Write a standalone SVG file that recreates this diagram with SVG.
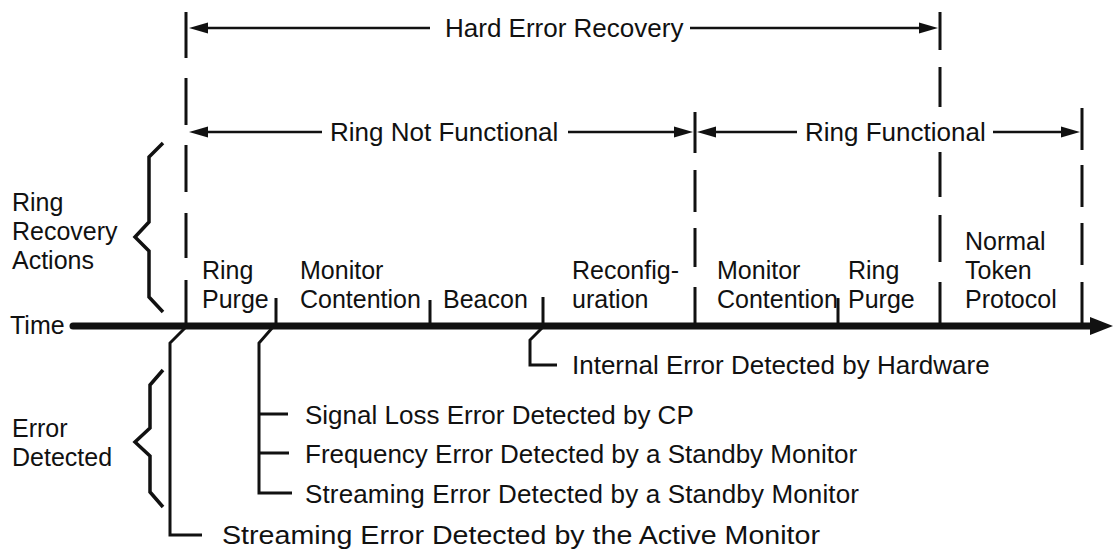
<svg xmlns="http://www.w3.org/2000/svg" width="1114" height="550" viewBox="0 0 1114 550">
<defs>
<style>
text{font-family:"Liberation Sans",Arial,Helvetica,sans-serif;fill:#111;}
.t26{font-size:26px;}
.t25{font-size:25px;}
.dash{stroke:#111;stroke-width:3;fill:none;}
.arr{stroke:#111;stroke-width:2.6;fill:none;}
.ah{fill:#111;stroke:none;}
.conn{stroke:#111;stroke-width:3;fill:none;stroke-linejoin:miter;}
.brace{stroke:#111;stroke-width:3.5;fill:none;stroke-linejoin:miter;}
</style>
</defs>
<rect width="1114" height="550" fill="#fff"/>

<g id="boundaries">
<path class="dash" d="M186,12V58M186,78V125M186,145V192M186,213V258M186,280V326"/>
<path class="dash" d="M695,112V153M695,170V212M695,228V267M695,287V323"/>
<path class="dash" d="M940,12V50M940,67V107M940,152V197M940,215V262M940,282V323"/>
<path class="dash" d="M1082,108V150M1082,165V207M1082,223V265M1082,282V323"/>
</g>

<g id="hard-error-recovery">
<path class="arr" d="M205,28H430M690,28H922"/>
<polygon class="ah" points="189,28 208,22.5 208,33.5"/>
<polygon class="ah" points="938,28 919,22.5 919,33.5"/>
<text class="t26" x="445" y="37">Hard Error Recovery</text>
</g>

<g id="ring-not-functional">
<path class="arr" d="M205,132H322M568,132H677"/>
<polygon class="ah" points="189,132 208,126.5 208,137.5"/>
<polygon class="ah" points="693,132 674,126.5 674,137.5"/>
<text class="t26" x="330" y="141">Ring Not Functional</text>
</g>

<g id="ring-functional">
<path class="arr" d="M713,132H797M993,132H1064"/>
<polygon class="ah" points="697,132 716,126.5 716,137.5"/>
<polygon class="ah" points="1080,132 1061,126.5 1061,137.5"/>
<text class="t26" x="805" y="141">Ring Functional</text>
</g>

<g id="ring-recovery-actions">
<text class="t25" x="12" y="211">Ring</text>
<text class="t25" x="12" y="240">Recovery</text>
<text class="t25" x="12" y="269">Actions</text>
<path class="brace" d="M163,143L149,157L149,222L135,237L149,251L149,297L163,312"/>
</g>

<g id="time-axis">
<text class="t25" x="10" y="334">Time</text>
<line x1="73" y1="326" x2="1094" y2="326" stroke="#111" stroke-width="7" stroke-linecap="round"/>
<polygon class="ah" points="1090,317 1113,326 1090,335"/>
<path class="conn" d="M276,298V323M430,300V323M543,297V323M838,298V323"/>
</g>

<g id="phase-ring-purge-1">
<text class="t25" x="202" y="279">Ring</text>
<text class="t25" x="202" y="308">Purge</text>
</g>
<g id="phase-monitor-contention-1">
<text class="t25" x="300" y="279">Monitor</text>
<text class="t25" x="300" y="308">Contention</text>
</g>
<g id="phase-beacon">
<text class="t25" x="443" y="308">Beacon</text>
</g>
<g id="phase-reconfiguration">
<text class="t25" x="572" y="279">Reconfig-</text>
<text class="t25" x="572" y="308">uration</text>
</g>
<g id="phase-monitor-contention-2">
<text class="t25" x="717" y="279">Monitor</text>
<text class="t25" x="717" y="308">Contention</text>
</g>
<g id="phase-ring-purge-2">
<text class="t25" x="848" y="279">Ring</text>
<text class="t25" x="848" y="308">Purge</text>
</g>
<g id="phase-normal-token">
<text class="t25" x="965" y="250">Normal</text>
<text class="t25" x="965" y="279">Token</text>
<text class="t25" x="965" y="308">Protocol</text>
</g>

<g id="error-detected">
<text class="t25" x="12" y="437">Error</text>
<text class="t25" x="12" y="466">Detected</text>
<path class="brace" d="M163,370L150,385L150,428L135,442L150,456L150,492L163,507"/>
</g>

<g id="connectors">
<path class="conn" d="M186,327L170,343V535H202"/>
<path class="conn" d="M273,327L259,343V493H292M259,414H288M259,453H289"/>
<path class="conn" d="M543,327L530,340V365H557"/>
</g>

<g id="error-internal">
<text class="t26" x="572" y="374">Internal Error Detected by Hardware</text>
</g>
<g id="error-signal-loss">
<text class="t26" x="305" y="424">Signal Loss Error Detected by CP</text>
</g>
<g id="error-frequency">
<text class="t26" x="305" y="463">Frequency Error Detected by a Standby Monitor</text>
</g>
<g id="error-streaming-standby">
<text class="t26" x="305" y="503" textLength="554" lengthAdjust="spacing">Streaming Error Detected by a Standby Monitor</text>
</g>
<g id="error-streaming-active">
<text class="t26" x="222" y="544" textLength="598" lengthAdjust="spacingAndGlyphs">Streaming Error Detected by the Active Monitor</text>
</g>
</svg>
